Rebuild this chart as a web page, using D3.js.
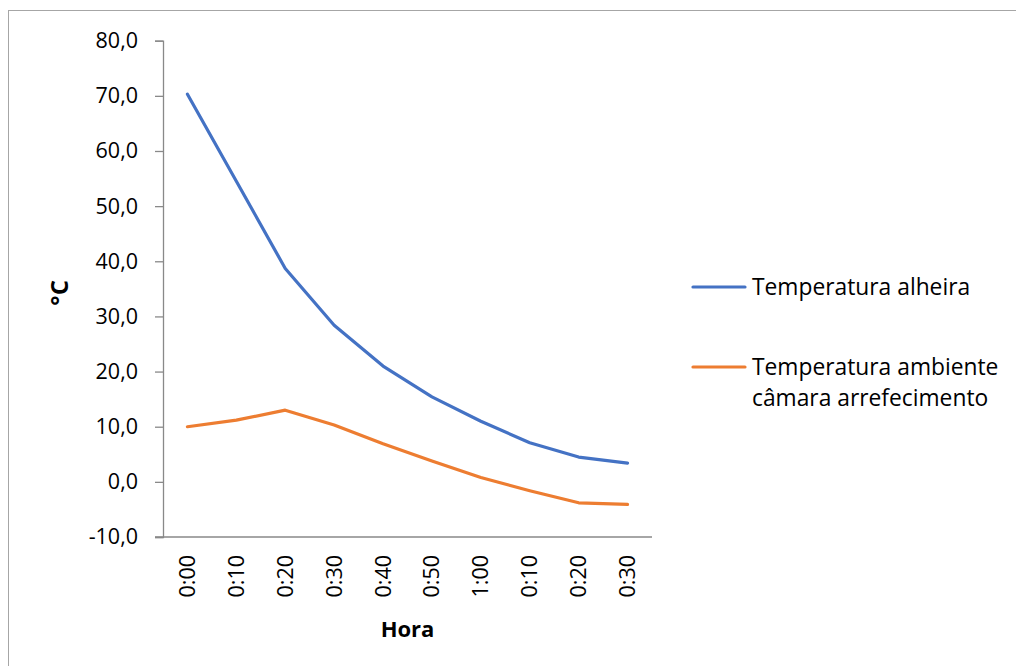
<!DOCTYPE html>
<html>
<head>
<meta charset="utf-8">
<script src="https://cdn.jsdelivr.net/npm/d3@7"></script>
<style>
  html, body { margin: 0; padding: 0; background: #fff; }
  svg { display: block; font-family: "Open Sans", Lato, sans-serif; }
</style>
</head>
<body>
<svg id="chart" width="1016" height="666"></svg>
<script>
const categories = ["0:00", "0:10", "0:20", "0:30", "0:40", "0:50", "1:00", "0:10", "0:20", "0:30"];
const seriesNames = ["Temperatura alheira", "Temperatura ambiente câmara arrefecimento"];
const alheira = [70.3, 54.5, 38.7, 28.4, 21.0, 15.4, 11.0, 7.1, 4.5, 3.4];
const ambiente = [10.0, 11.2, 13.0, 10.3, 6.9, 3.8, 0.8, -1.6, -3.8, -4.1];
const yTicks = [-10, 0, 10, 20, 30, 40, 50, 60, 70, 80];
const colors = ["#4472C4", "#ED7D31"];

(function () {
const svg = d3.select("#chart");
const pLeft = 163, pRight = 652, pTop = 40.7, pBottom = 537;
const FONT = "'Open Sans', Lato, sans-serif";

// chart border
svg.append("rect").attr("x", 8.5).attr("y", 10.5).attr("width", 1020).attr("height", 670)
  .attr("fill", "none").attr("stroke", "#a6a6a6").attr("stroke-width", 1);

const x = d3.scaleBand().domain(d3.range(categories.length)).range([pLeft, pRight]);
const y = d3.scaleLinear().domain([-10, 80]).range([pBottom, pTop]);

// y axis
const yAxis = d3.axisLeft(y).tickValues(yTicks).tickSize(8).tickPadding(17)
  .tickFormat(d => d.toFixed(1).replace(".", ","));
const gy = svg.append("g").attr("transform", `translate(${pLeft},0)`).call(yAxis);
gy.select(".domain").attr("stroke", "#898989").attr("stroke-width", 1.3);
gy.selectAll(".tick line").attr("stroke", "#898989").attr("stroke-width", 1.3);
gy.selectAll(".tick text").attr("font-size", 21.5).attr("fill", "#000")
  .attr("font-family", FONT);

// x axis
const xAxis = d3.axisBottom(x).tickSize(0).tickFormat(i => categories[i]);
const gx = svg.append("g").attr("transform", `translate(0,${y(-10)})`).call(xAxis);
gx.select(".domain").attr("stroke", "#898989").attr("stroke-width", 1.3)
  .attr("d", `M${pLeft - 8},0H${pRight}`);
gx.selectAll(".tick text")
  .attr("font-size", 21.5).attr("fill", "#000")
  .attr("font-family", FONT)
  .attr("text-anchor", "end")
  .attr("dy", "0.35em")
  .attr("transform", "translate(0,18) rotate(-90)")
  .attr("x", 0).attr("y", 0);

// lines
const line = d3.line().x((d, i) => x(i) + x.bandwidth() / 2).y(d => y(d));
[alheira, ambiente].forEach((s, k) => {
  svg.append("path").datum(s).attr("d", line)
    .attr("fill", "none").attr("stroke", colors[k]).attr("stroke-width", 3.2)
    .attr("stroke-linejoin", "round").attr("stroke-linecap", "round");
});

// axis titles
svg.append("text").attr("x", (pLeft + pRight) / 2).attr("y", 637)
  .attr("text-anchor", "middle").attr("font-size", 22).attr("font-weight", "bold").text("Hora");
svg.append("text").attr("transform", `translate(68,${(pTop + pBottom) / 2 + 4}) rotate(-90)`)
  .attr("text-anchor", "middle").attr("font-size", 24).attr("font-weight", "bold").text("°C");

// legend
const legendItems = [
  { lines: ["Temperatura alheira"], y: 287 },
  { lines: ["Temperatura ambiente", "câmara arrefecimento"], y: 367 }
];
legendItems.forEach((it, k) => {
  svg.append("line").attr("x1", 693).attr("x2", 745).attr("y1", it.y).attr("y2", it.y)
    .attr("stroke", colors[k]).attr("stroke-width", 3.2).attr("stroke-linecap", "round");
  const t = svg.append("text").attr("x", 752).attr("y", it.y + 8).attr("font-size", 22.8);
  it.lines.forEach((l, j) => {
    t.append("tspan").attr("x", 752).attr("dy", j === 0 ? 0 : 31).text(l);
  });
});
})();
</script>
</body>
</html>
